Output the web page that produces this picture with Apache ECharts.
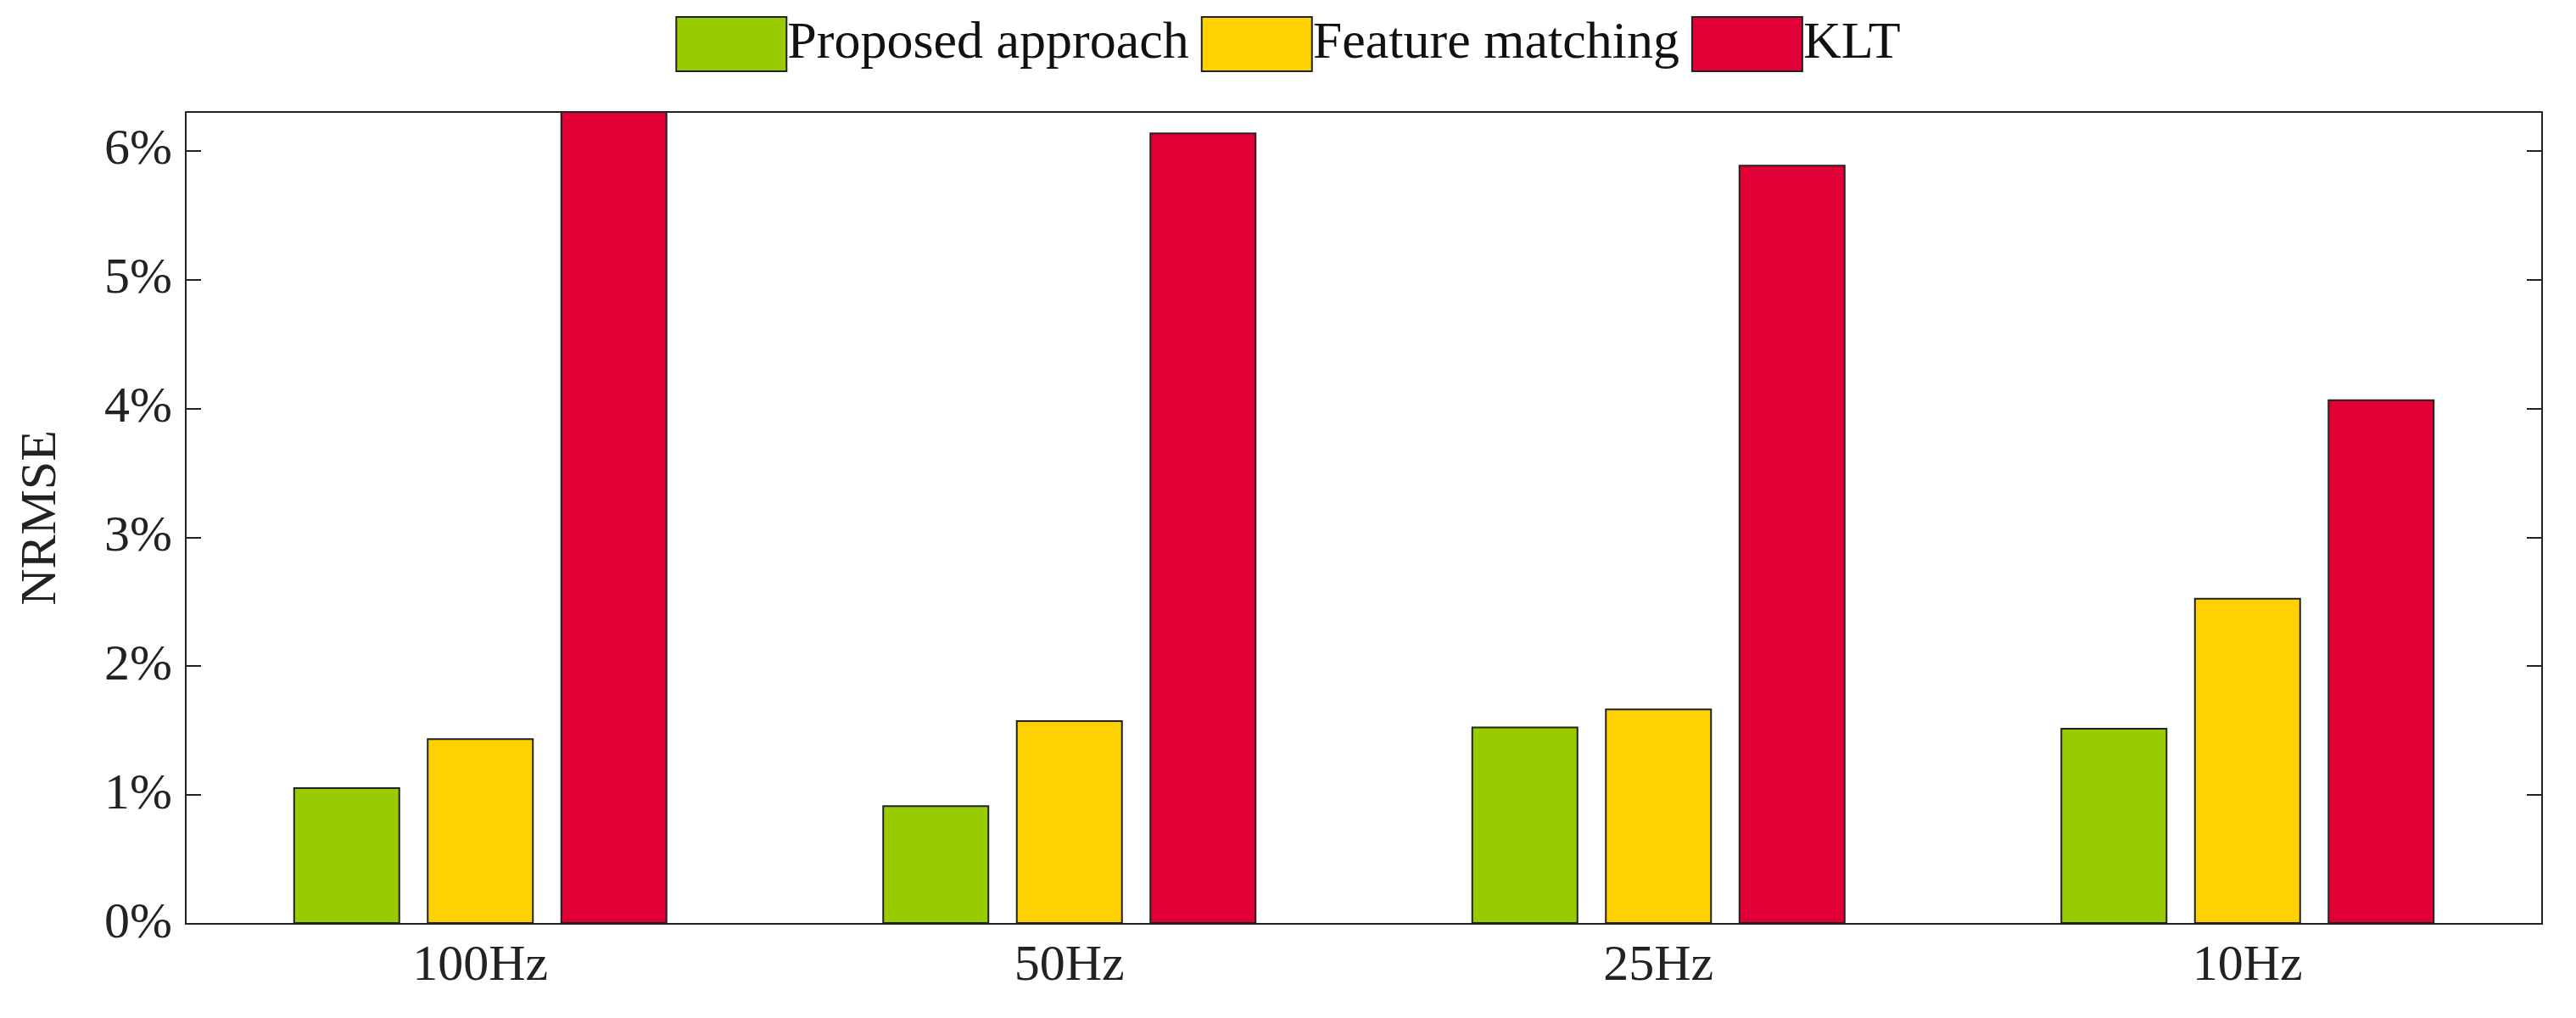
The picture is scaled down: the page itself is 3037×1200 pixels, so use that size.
<!DOCTYPE html>
<html><head><meta charset="utf-8">
<script src="https://cdn.jsdelivr.net/npm/echarts@6/dist/echarts.min.js"></script>
<style>html,body{margin:0;background:#fff}#c{width:3037px;height:1200px}</style>
</head><body><div id="c"></div>
<script>
var categories = ['100Hz', '50Hz', '25Hz', '10Hz'];
var proposed = [1.06, 0.92, 1.53, 1.52];
var featureMatching = [1.44, 1.58, 1.67, 2.53];
var klt = [6.5, 6.14, 5.89, 4.07];
var yTicks = [0, 1, 2, 3, 4, 5, 6];

var font = 'Liberation Serif';
var chart = echarts.init(document.getElementById('c'));
function bar(name, data, color) {
    return {
        name: name, type: 'bar', data: data, barWidth: 126, barGap: '25%',
        clip: true,
        itemStyle: { color: color, borderColor: '#222', borderWidth: 2 }
    };
}
chart.setOption({
    animation: false,
    textStyle: { fontFamily: font },
    legend: {
        top: 14, left: 'center', itemWidth: 130, itemHeight: 64, itemGap: 14,
        icon: 'rect',
        textStyle: { fontFamily: font, fontSize: 62, color: '#111', padding: [0, 0, 0, -4] },
        data: ['Proposed approach', 'Feature matching', 'KLT']
    },
    grid: { left: 219, right: 40, top: 132, bottom: 111 },
    xAxis: {
        type: 'category', data: categories,
        axisLine: { lineStyle: { color: '#222', width: 2 } },
        axisTick: { show: false },
        axisLabel: { fontSize: 60, color: '#222', margin: 20 }
    },
    yAxis: [{
        type: 'value', min: 0, max: 6.3, interval: 1,
        name: 'NRMSE', nameLocation: 'middle', nameGap: 140,
        nameTextStyle: { fontSize: 60, color: '#222' },
        axisLine: { show: true, lineStyle: { color: '#222', width: 2 } },
        axisTick: { show: true, inside: true, length: 18, lineStyle: { color: '#222', width: 2 } },
        axisLabel: {
            fontSize: 60, color: '#222', margin: 16, showMaxLabel: false,
            formatter: function (v) { return yTicks.indexOf(v) >= 0 ? v + '%' : ''; }
        },
        splitLine: { show: false }
    }, {
        type: 'value', min: 0, max: 6.3, interval: 1, position: 'right',
        axisLine: { show: true, lineStyle: { color: '#222', width: 2 } },
        axisTick: { show: true, inside: true, length: 18, lineStyle: { color: '#222', width: 2 } },
        axisLabel: { show: false }, splitLine: { show: false }
    }],
    graphic: [{
        type: 'line', shape: { x1: 219, y1: 132, x2: 2997, y2: 132 },
        style: { stroke: '#222', lineWidth: 2 }
    }],
    series: [
        bar('Proposed approach', proposed, '#99CC00'),
        bar('Feature matching', featureMatching, '#FFD100'),
        bar('KLT', klt, '#E10035')
    ]
});
</script></body></html>
